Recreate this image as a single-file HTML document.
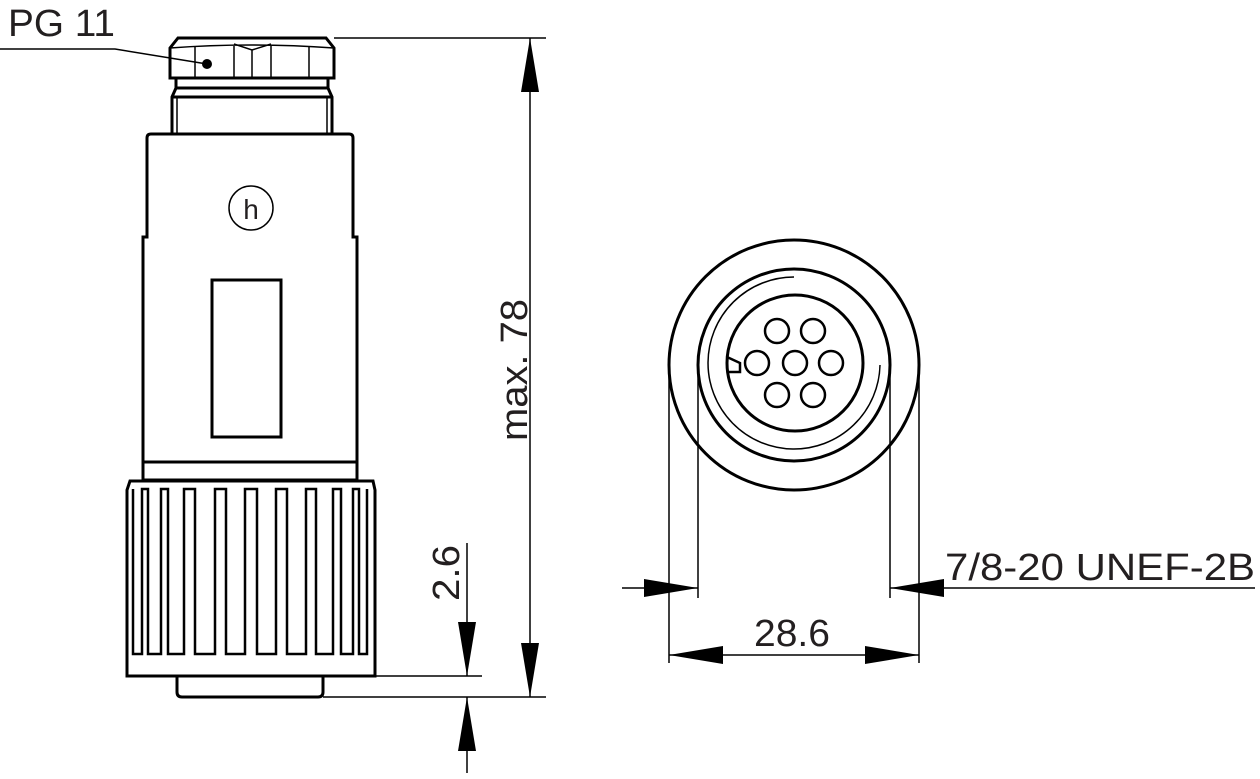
<!DOCTYPE html>
<html><head><meta charset="utf-8"><style>html,body{margin:0;padding:0;background:#fff}svg{display:block}text{font-family:"Liberation Sans",sans-serif;fill:#231f20}</style></head>
<body>
<svg width="1260" height="779" viewBox="0 0 1260 779" xmlns="http://www.w3.org/2000/svg">
<defs>
<marker id="a" markerWidth="54" markerHeight="18" refX="54" refY="9" orient="auto" markerUnits="userSpaceOnUse"><path d="M0,0 L54,9 L0,18 Z" fill="#000"/></marker>
</defs>
<g stroke="#000" fill="none" stroke-width="3">
<path d="M178,38 H326 L334,48 V78 H170 V48 Z"/>
<path d="M170,48 Q250,42 334,48" stroke-width="1.5"/>
<g stroke-width="1.5"><line x1="195" y1="46" x2="195" y2="78"/><line x1="234" y1="46" x2="234" y2="78"/><line x1="252" y1="50" x2="252" y2="78"/><line x1="271" y1="46" x2="271" y2="78"/><line x1="309" y1="46" x2="309" y2="78"/><path d="M234,44 L252,50 L271,44"/></g>
<path d="M176,78 V88 L172,97 V134 M328,78 V88 L332,97 V134"/>
<line x1="176" y1="88" x2="328" y2="88"/>
<line x1="172" y1="97" x2="332" y2="97"/>
<line x1="177" y1="97" x2="177" y2="134" stroke-width="1.5"/><line x1="327" y1="97" x2="327" y2="134" stroke-width="1.5"/>
<path d="M147,237 V138 Q147,134 151,134 H349 Q353,134 353,138 V237 H357 V480 H143 V237 Z"/>
<line x1="143" y1="462" x2="357" y2="462"/>
<rect x="212" y="280" width="69" height="157"/>
<circle cx="251" cy="208" r="22" stroke-width="1.5"/>
<path d="M130,481 H373 L375,490 V676 H127 V490 Z"/>
<path d="M133,489 V654 H142 V489 H148 V654 H161 V489 H168 V654 H184 V489 H195 V654 H215 V489 H226 V654 H245 V489 H257 V654 H276 V489 H287 V654 H306 V489 H316 V654 H333 V489 H341 V654 H353 V489 H359 V654 H367 V489" stroke-width="2.5"/>
<path d="M177,676 V692 Q177,697 182,697 H318 Q323,697 323,692 V676"/>
<circle cx="794" cy="365" r="125"/>
<circle cx="794" cy="365" r="96"/>
<circle cx="795" cy="363" r="68"/>
<path d="M794,277 A86,86 0 1 0 880,365" stroke-width="1.5"/>
<g stroke-width="2.5"><circle cx="777" cy="331" r="12"/><circle cx="813" cy="331" r="12"/><circle cx="757" cy="363" r="12"/><circle cx="795" cy="363" r="12"/><circle cx="831" cy="363" r="12"/><circle cx="777" cy="395" r="12"/><circle cx="813" cy="395" r="12"/>
<path d="M727,357 L740,363 V372 H727"/></g>
</g>
<g stroke="#000" stroke-width="1.5" fill="none">
<polyline points="0,49 115,49 207,64"/>
<line x1="334" y1="38" x2="546" y2="38"/>
<line x1="323" y1="697" x2="546" y2="697"/>
<line x1="375" y1="676" x2="482" y2="676"/>
<line x1="530" y1="368" x2="530" y2="38" marker-end="url(#a)"/>
<line x1="530" y1="368" x2="530" y2="697" marker-end="url(#a)"/>
<line x1="467" y1="543" x2="467" y2="676" marker-end="url(#a)"/>
<line x1="467" y1="773" x2="467" y2="697" marker-end="url(#a)"/>
<line x1="669" y1="365" x2="669" y2="663"/>
<line x1="919" y1="365" x2="919" y2="663"/>
<line x1="698" y1="365" x2="698" y2="598"/>
<line x1="890" y1="365" x2="890" y2="598"/>
<line x1="622" y1="588" x2="698" y2="588" marker-end="url(#a)"/>
<line x1="1255" y1="588" x2="890" y2="588" marker-end="url(#a)"/>
<line x1="794" y1="655" x2="669" y2="655" marker-end="url(#a)"/>
<line x1="794" y1="655" x2="919" y2="655" marker-end="url(#a)"/>
</g>
<circle cx="207" cy="64" r="5" fill="#000"/>
<text x="251" y="219" font-size="28" text-anchor="middle" font-family="Liberation Serif,serif">h</text>
<text x="8" y="36" font-size="38" textLength="107" lengthAdjust="spacingAndGlyphs">PG 11</text>
<text transform="translate(527,370) rotate(-90)" font-size="38" text-anchor="middle" textLength="142" lengthAdjust="spacingAndGlyphs">max. 78</text>
<text transform="translate(459,573) rotate(-90)" font-size="38" text-anchor="middle" textLength="56" lengthAdjust="spacingAndGlyphs">2.6</text>
<text x="792" y="646" font-size="38" text-anchor="middle" textLength="76" lengthAdjust="spacingAndGlyphs">28.6</text>
<text x="945" y="580" font-size="38" textLength="310" lengthAdjust="spacingAndGlyphs">7/8-20 UNEF-2B</text>
</svg>
</body></html>
